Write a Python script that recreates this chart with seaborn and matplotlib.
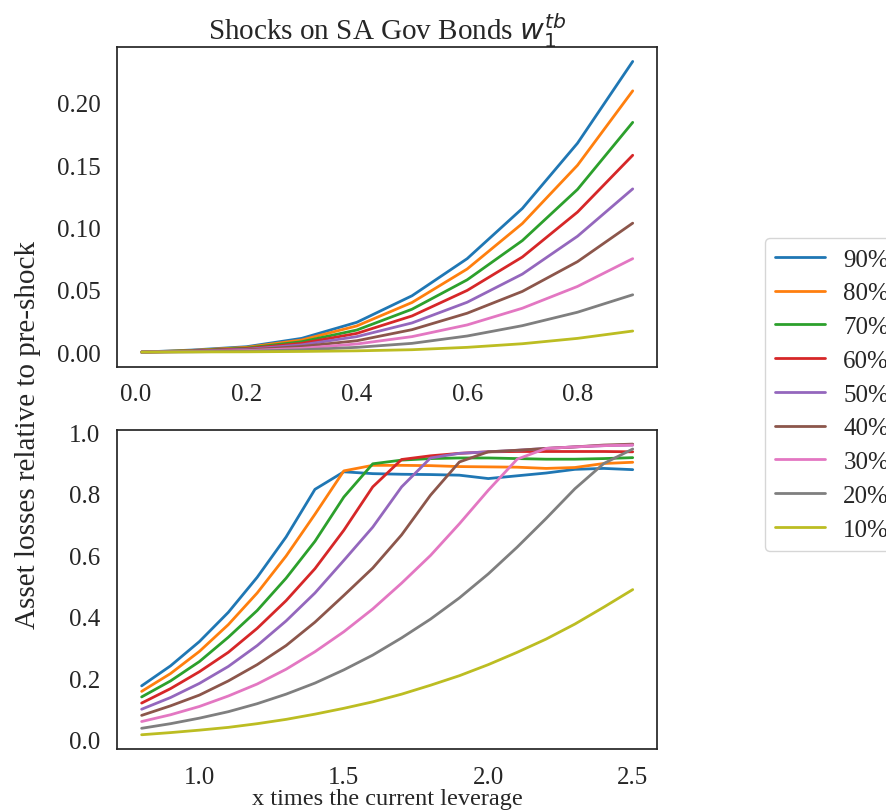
import numpy as np
import pandas as pd
import matplotlib
matplotlib.use("Agg")
import matplotlib.pyplot as plt
import seaborn as sns

# shock sizes (legend order)
levels = ["90%", "80%", "70%", "60%", "50%", "40%", "30%", "20%", "10%"]

# top panel: x times the current leverage (low range)
x_low = [0.01, 0.1, 0.2, 0.3, 0.4, 0.5, 0.6, 0.7, 0.8, 0.9]
low_90 = [0.0, 0.0016, 0.0043, 0.0110, 0.0239, 0.0452, 0.0750, 0.1153, 0.1677, 0.2333]
low_80 = [0.0, 0.0013, 0.0038, 0.0097, 0.0210, 0.0398, 0.0667, 0.1032, 0.1500, 0.2097]
low_70 = [0.0, 0.0010, 0.0032, 0.0083, 0.0177, 0.0344, 0.0580, 0.0895, 0.1306, 0.1844]
low_60 = [0.0, 0.0008, 0.0027, 0.0070, 0.0150, 0.0290, 0.0495, 0.0763, 0.1124, 0.1580]
low_50 = [0.0, 0.0007, 0.0022, 0.0058, 0.0124, 0.0234, 0.0400, 0.0626, 0.0930, 0.1310]
low_40 = [0.0, 0.0005, 0.0017, 0.0045, 0.0091, 0.0180, 0.0312, 0.0487, 0.0726, 0.1035]
low_30 = [0.0, 0.0004, 0.0012, 0.0030, 0.0065, 0.0124, 0.0218, 0.0352, 0.0527, 0.0750]
low_20 = [0.0, 0.0002, 0.0007, 0.0018, 0.0038, 0.0070, 0.0129, 0.0212, 0.0320, 0.0460]
low_10 = [0.0, 0.0001, 0.0002, 0.0005, 0.0010, 0.0019, 0.0038, 0.0067, 0.0110, 0.0169]

# bottom panel: x times the current leverage (high range)
x_high = [0.8, 0.9, 1.0, 1.1, 1.2, 1.3, 1.4, 1.5, 1.6, 1.7, 1.8, 1.9, 2.0, 2.1, 2.2, 2.3, 2.4, 2.5]
high_90 = [0.176, 0.241, 0.320, 0.415, 0.529, 0.660, 0.815, 0.872, 0.866, 0.864,
           0.863, 0.861, 0.850, 0.859, 0.868, 0.880, 0.883, 0.879]
high_80 = [0.158, 0.216, 0.288, 0.375, 0.478, 0.598, 0.734, 0.875, 0.893, 0.893,
           0.892, 0.889, 0.888, 0.887, 0.883, 0.886, 0.899, 0.903]
high_70 = [0.140, 0.192, 0.255, 0.334, 0.421, 0.526, 0.646, 0.790, 0.898, 0.910,
           0.915, 0.917, 0.917, 0.915, 0.913, 0.913, 0.915, 0.918]
high_60 = [0.120, 0.167, 0.222, 0.285, 0.363, 0.453, 0.557, 0.682, 0.823, 0.912,
           0.924, 0.932, 0.937, 0.938, 0.938, 0.938, 0.938, 0.937]
high_50 = [0.100, 0.138, 0.184, 0.239, 0.307, 0.387, 0.478, 0.584, 0.692, 0.823,
           0.917, 0.932, 0.937, 0.942, 0.948, 0.953, 0.957, 0.959]
high_40 = [0.080, 0.111, 0.146, 0.192, 0.245, 0.307, 0.383, 0.470, 0.559, 0.667,
           0.796, 0.904, 0.937, 0.942, 0.948, 0.953, 0.959, 0.962]
high_30 = [0.060, 0.082, 0.109, 0.143, 0.182, 0.230, 0.287, 0.352, 0.426, 0.510,
           0.600, 0.703, 0.812, 0.913, 0.948, 0.953, 0.957, 0.959]
high_20 = [0.038, 0.053, 0.071, 0.092, 0.118, 0.149, 0.185, 0.228, 0.276, 0.332,
           0.393, 0.462, 0.540, 0.627, 0.720, 0.817, 0.899, 0.946]
high_10 = [0.017, 0.024, 0.032, 0.041, 0.053, 0.067, 0.084, 0.103, 0.124, 0.149,
           0.178, 0.209, 0.245, 0.285, 0.328, 0.377, 0.432, 0.489]

low_series = [low_90, low_80, low_70, low_60, low_50, low_40, low_30, low_20, low_10]
high_series = [high_90, high_80, high_70, high_60, high_50, high_40, high_30, high_20, high_10]


def to_long(x, series):
    frames = []
    for lev, vals in zip(levels, series):
        frames.append(pd.DataFrame({"x": x, "loss": vals, "shock": lev}))
    return pd.concat(frames, ignore_index=True)


df_low = to_long(x_low, low_series)
df_high = to_long(x_high, high_series)

sns.set_theme(style="white")
plt.rcParams["font.family"] = ["Liberation Serif", "DejaVu Sans"]
plt.rcParams["mathtext.fontset"] = "dejavusans"
plt.rcParams["xtick.labelsize"] = 18
plt.rcParams["ytick.labelsize"] = 18

palette = sns.color_palette("tab10", len(levels))

fig, (ax1, ax2) = plt.subplots(2, 1, figsize=(8.87, 8.12), dpi=100)
fig.subplots_adjust(left=0.132, right=0.741, top=0.941, bottom=0.076, hspace=0.197)

sns.lineplot(data=df_low, x="x", y="loss", hue="shock", hue_order=levels,
             palette=palette, errorbar=None, legend=False, linewidth=2, ax=ax1)
sns.lineplot(data=df_high, x="x", y="loss", hue="shock", hue_order=levels,
             palette=palette, errorbar=None, legend=True, linewidth=2, ax=ax2)

ax1.set_title(r"Shocks on SA Gov Bonds $w_1^{tb}$", fontsize=21)
ax1.set_xlabel("")
ax1.set_ylabel("")
ax2.set_ylabel("")
ax2.set_xlabel("x times the current leverage", fontsize=17.5, labelpad=0)
ax1.tick_params(axis="both", pad=6)
ax2.tick_params(axis="both", pad=6)

fig.text(0.032, 0.464, "Asset losses relative to pre-shock", rotation=90,
         va="center", ha="center", fontsize=21)

# legend outside on the right
leg = ax2.get_legend()
handles = leg.legend_handles
for h in handles:
    h.set_linewidth(2)
labels = [t.get_text() for t in leg.get_texts()]
leg.remove()
fig.legend(handles, labels, loc="center left", bbox_to_anchor=(0.862, 0.513),
           borderaxespad=0, fontsize=18, handlelength=2.0, handletextpad=0.75,
           labelspacing=0.45, frameon=True)

plt.savefig("out.png", dpi=100)
